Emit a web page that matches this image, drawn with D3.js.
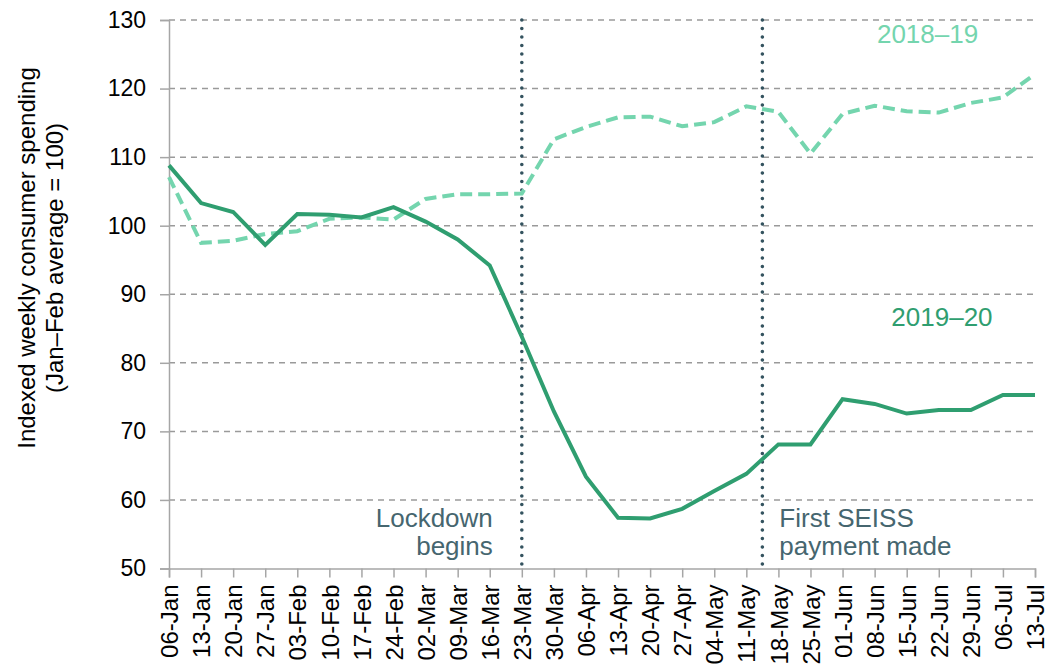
<!DOCTYPE html>
<html>
<head>
<meta charset="utf-8">
<script src="https://cdn.jsdelivr.net/npm/d3@7"></script>
<style>
  body { margin: 0; background: #fff; }
  text { font-family: "Liberation Sans", Arial, sans-serif; }
</style>
</head>
<body>
<svg id="chart" width="1047" height="671"></svg>
<script>
// weekly labels (week commencing)
var weeks = ["06-Jan","13-Jan","20-Jan","27-Jan","03-Feb","10-Feb","17-Feb","24-Feb",
  "02-Mar","09-Mar","16-Mar","23-Mar","30-Mar","06-Apr","13-Apr","20-Apr","27-Apr",
  "04-May","11-May","18-May","25-May","01-Jun","08-Jun","15-Jun","22-Jun","29-Jun",
  "06-Jul","13-Jul"]

var spend1819 = [107.1, 97.5, 97.8, 98.8, 99.2, 101.0, 101.2, 100.9, 103.9, 104.6, 104.6, 104.7,
  112.6, 114.4, 115.8, 115.9, 114.5, 115.1, 117.4, 116.6, 110.5, 116.3, 117.5, 116.7,
  116.5, 117.9, 118.7, 122.1]

var spend1920 = [108.8, 103.3, 102.0, 97.2, 101.7, 101.6, 101.2, 102.7, 100.6, 98.0, 94.2, 83.8,
  72.9, 63.4, 57.4, 57.3, 58.7, 61.3, 63.8, 68.1, 68.1, 74.7, 74.0, 72.6,
  73.1, 73.1, 75.3, 75.3]

var yTicks = [50, 60, 70, 80, 90, 100, 110, 120, 130]

// events, position given as week index (SEISS paid mid-week, 13 May)
var events = [
  {pos: 11, lines: ["Lockdown", "begins"], side: "left"},
  {pos: 18.5, lines: ["First SEISS", "payment made"], side: "right"}
]

var seriesLabels = [
  {name: "2018\u201319", at: 23.65, value: 126.6, color: "#74d5ae"},
  {name: "2019\u201320", at: 24.1, value: 85.3, color: "#2f9e70"}
]

var svg = d3.select("#chart")
var plotLeft = 169, plotRight = 1035, plotTop = 20, plotBottom = 568.5

var x = d3.scaleLinear().domain([0, weeks.length - 1]).range([plotLeft, plotRight])
var y = d3.scaleLinear().domain([50, 130]).range([plotBottom, plotTop])

/* gridlines */
svg.append("g")
  .selectAll("line")
  .data(yTicks.filter(function(d){ return d > 50 }))
  .enter().append("line")
    .attr("x1", plotLeft).attr("x2", plotRight)
    .attr("y1", function(d){ return y(d) }).attr("y2", function(d){ return y(d) })
    .attr("stroke", "#9a9a9a")
    .attr("stroke-width", 1.5)
    .attr("stroke-dasharray", "6,5")

/* y axis */
var yAxis = d3.axisLeft(y).tickValues(yTicks).tickSize(9).tickPadding(14)
var gy = svg.append("g")
  .attr("transform", "translate(" + plotLeft + ",0)")
  .call(yAxis)
gy.select(".domain").attr("stroke", "#a6a6a6").attr("stroke-width", 1.5)
gy.selectAll(".tick line").attr("stroke", "#a6a6a6").attr("stroke-width", 1.5)
gy.selectAll(".tick text")
  .attr("font-size", 23)
  .attr("fill", "#000")
  .style("font-family", "'Liberation Sans', Arial, sans-serif")

/* x axis */
var xAxis = d3.axisBottom(x)
  .tickValues(d3.range(weeks.length))
  .tickFormat(function(i){ return weeks[i] })
  .tickSize(9)
var gx = svg.append("g")
  .attr("transform", "translate(0," + plotBottom + ")")
  .call(xAxis)
gx.select(".domain").attr("stroke", "#a6a6a6").attr("stroke-width", 1.5)
gx.selectAll(".tick line").attr("stroke", "#a6a6a6").attr("stroke-width", 1.5)
gx.selectAll(".tick text")
  .attr("font-size", 24)
  .attr("fill", "#000")
  .style("font-family", "'Liberation Sans', Arial, sans-serif")
  .attr("text-anchor", "end")
  .attr("x", 0).attr("y", 0)
  .attr("dy", "0.36em")
  .attr("transform", "translate(0,16) rotate(-90)")

/* axis title */
svg.append("text")
  .attr("transform", "translate(35,258) rotate(-90)")
  .attr("text-anchor", "middle")
  .attr("font-size", 24)
  .attr("fill", "#000")
  .selectAll("tspan")
  .data(["Indexed weekly consumer spending", "(Jan\u2013Feb average = 100)"])
  .enter().append("tspan")
    .attr("x", 0)
    .attr("dy", function(d, i){ return i == 0 ? 0 : "1.15em" })
    .text(function(d){ return d })

/* event lines */
var ev = svg.append("g").selectAll("g").data(events).enter().append("g")
ev.append("line")
  .attr("x1", function(d){ return x(d.pos) }).attr("x2", function(d){ return x(d.pos) })
  .attr("y1", plotTop).attr("y2", plotBottom + 2)
  .attr("stroke", "#34535f")
  .attr("stroke-width", 3.6)
  .attr("stroke-linecap", "round")
  .attr("stroke-dasharray", "0,8.5")
ev.append("text")
  .attr("font-size", 26)
  .attr("fill", "#46666f")
  .attr("text-anchor", function(d){ return d.side == "left" ? "end" : "start" })
  .attr("transform", function(d){
    var tx = d.side == "left" ? x(d.pos) - 29 : x(d.pos) + 17
    return "translate(" + tx + ",526.5)"
  })
  .selectAll("tspan")
  .data(function(d){ return d.lines })
  .enter().append("tspan")
    .attr("x", 0)
    .attr("dy", function(d, i){ return i == 0 ? 0 : 28.5 })
    .text(function(d){ return d })

/* series */
var line = d3.line()
  .x(function(d, i){ return x(i) })
  .y(function(d){ return y(d) })

svg.append("path")
  .datum(spend1819)
  .attr("d", line)
  .attr("fill", "none")
  .attr("stroke", "#74d5ae")
  .attr("stroke-width", 4)
  .attr("stroke-dasharray", "12,6")

svg.append("path")
  .datum(spend1920)
  .attr("d", line)
  .attr("fill", "none")
  .attr("stroke", "#2f9e70")
  .attr("stroke-width", 4)

/* series labels */
svg.append("g").selectAll("text")
  .data(seriesLabels)
  .enter().append("text")
    .attr("x", function(d){ return x(d.at) })
    .attr("y", function(d){ return y(d.value) })
    .attr("text-anchor", "middle")
    .attr("font-size", 26)
    .attr("fill", function(d){ return d.color })
    .text(function(d){ return d.name })
</script>
</body>
</html>
